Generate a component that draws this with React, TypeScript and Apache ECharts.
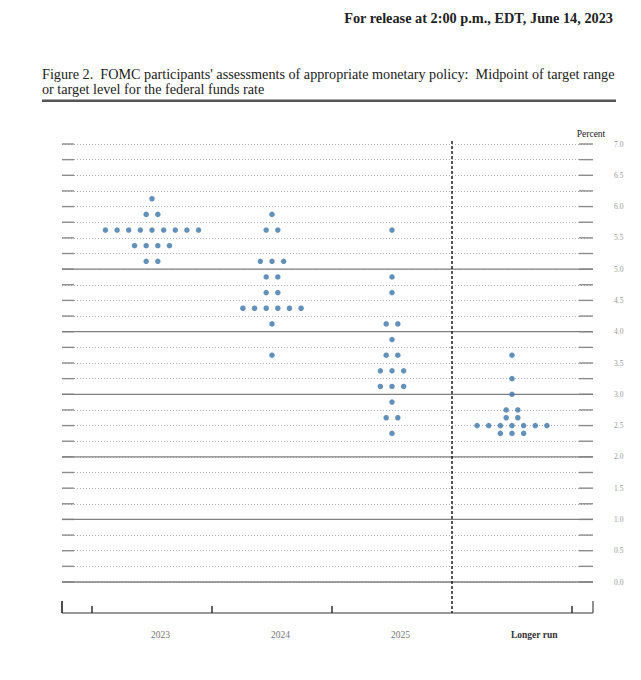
import React, { useEffect, useRef } from "react";
import * as echarts from "echarts";

// ---- Data ----
const categories = ["2023", "2024", "2025", "Longer run"];
// [rate (midpoint), number of participants]
const dots2023 = [[6.125, 1], [5.875, 2], [5.625, 9], [5.375, 4], [5.125, 2]];
const dots2024 = [[5.875, 1], [5.625, 2], [5.125, 3], [4.875, 2], [4.625, 2], [4.375, 6], [4.125, 1], [3.625, 1]];
const dots2025 = [[5.625, 1], [4.875, 1], [4.625, 1], [4.125, 2], [3.875, 1], [3.625, 2], [3.375, 3], [3.125, 3], [2.875, 1], [2.625, 2], [2.375, 1]];
const dotsLongerRun = [[3.625, 1], [3.25, 1], [3.0, 1], [2.75, 2], [2.625, 2], [2.5, 7], [2.375, 3]];
const yTickLabels = ["0.0", "0.5", "1.0", "1.5", "2.0", "2.5", "3.0", "3.5", "4.0", "4.5", "5.0", "5.5", "6.0", "6.5", "7.0"];
const gridLevels = [0, 0.25, 0.5, 0.75, 1, 1.25, 1.5, 1.75, 2, 2.25, 2.5, 2.75, 3, 3.25, 3.5, 3.75, 4, 4.25, 4.5, 4.75, 5, 5.25, 5.5, 5.75, 6, 6.25, 6.5, 6.75, 7];
const solidLevels = [0, 1, 2, 3, 4, 5];
const categoryBoundaries = [-0.5, 0.5, 1.5, 3.5];
const separatorAt = 2.5;
const unitLabel = "Percent";

const X_MIN = -0.75;
const X_MAX = 3.675;
const DOT_STEP = 0.097;
const SERIF = '"Liberation Serif", "DejaVu Serif", serif';

function buildDots() {
  const groups = [dots2023, dots2024, dots2025, dotsLongerRun];
  const pts: number[][] = [];
  groups.forEach((rows, ci) => {
    rows.forEach(([rate, count]) => {
      for (let k = 0; k < count; k++) {
        pts.push([ci + (k - (count - 1) / 2) * DOT_STEP, rate]);
      }
    });
  });
  return pts;
}

export default function App() {
  const ref = useRef<HTMLDivElement>(null);
  useEffect(() => {
    if (!ref.current) return;
    const chart = echarts.init(ref.current, undefined, { renderer: "svg" });
    const frameRender = (params: any, api: any) => {
      const L = api.coord([X_MIN, 0])[0];
      const R = api.coord([X_MAX, 0])[0];
      const y0 = api.coord([0, 0])[1];
      const yTop = api.coord([0, 7])[1];
      const yb = y0 + 31;
      const children: any[] = [];
      const lineStyle = { stroke: "#8c8c8c", lineWidth: 1.4 };
      gridLevels.forEach((v) => {
        const y = api.coord([0, v])[1];
        children.push({ type: "line", shape: { x1: L, y1: y, x2: L + 12, y2: y }, style: lineStyle });
        children.push({ type: "line", shape: { x1: R - 14, y1: y, x2: R, y2: y }, style: lineStyle });
      });
      solidLevels.forEach((v) => {
        const y = api.coord([0, v])[1];
        children.push({ type: "line", shape: { x1: L, y1: y, x2: R, y2: y }, style: { stroke: "#808080", lineWidth: 1.3 } });
      });
      // bottom axis
      children.push({ type: "line", shape: { x1: L, y1: yb, x2: R, y2: yb }, style: { stroke: "#777", lineWidth: 1.5 } });
      children.push({ type: "line", shape: { x1: L, y1: yb - 12, x2: L, y2: yb }, style: { stroke: "#222", lineWidth: 1.6 } });
      children.push({ type: "line", shape: { x1: R, y1: yb - 12, x2: R, y2: yb }, style: { stroke: "#555", lineWidth: 1.3 } });
      categoryBoundaries.forEach((b) => {
        const x = api.coord([b, 0])[0];
        children.push({ type: "line", shape: { x1: x, y1: yb - 7, x2: x, y2: yb }, style: { stroke: "#222", lineWidth: 1.4 } });
      });
      const xs = api.coord([separatorAt, 0])[0];
      children.push({ type: "line", shape: { x1: xs, y1: yTop - 3, x2: xs, y2: yb }, style: { stroke: "#111", lineWidth: 1.4, lineDash: [3, 2] } });
      categories.forEach((c, i) => {
        const x = api.coord([i, 0])[0];
        const last = i === categories.length - 1;
        children.push({
          type: "text",
          x: x - 1,
          y: y0 + 53,
          style: {
            text: c,
            fill: last ? "#333" : "#777",
            font: (last ? "bold " : "") + "9.5px " + SERIF,
            align: "left",
            verticalAlign: "middle",
          },
        });
      });
      children.push({
        type: "text",
        x: R - 2,
        y: yTop - 10,
        style: { text: unitLabel, fill: "#222", font: "9.5px " + SERIF, align: "center", verticalAlign: "middle" },
      });
      return { type: "group", children };
    };

    chart.setOption({
      animation: false,
      backgroundColor: "#fff",
      grid: { left: 62, right: 48, top: 144, bottom: 98 },
      xAxis: { type: "value", min: X_MIN, max: X_MAX, show: false },
      yAxis: {
        type: "value",
        position: "right",
        min: 0,
        max: 7,
        interval: 0.25,
        axisLine: { show: false },
        axisTick: { show: false },
        axisLabel: {
          margin: 21,
          align: "left",
          fontFamily: SERIF,
          fontSize: 7.5,
          color: "#999",
          formatter: (v: number) => {
            const s = v.toFixed(1);
            return Math.abs(v * 2 - Math.round(v * 2)) < 1e-9 && yTickLabels.includes(s) ? s : "";
          },
        },
        splitLine: { show: true, lineStyle: { color: "#b0b0b0", width: 1, type: [1, 2] } },
      },
      graphic: [
        { type: "text", x: 613, y: 18, style: { text: "For release at 2:00 p.m., EDT, June 14, 2023", font: "bold 14.3px " + SERIF, fill: "#222", align: "right", verticalAlign: "middle" } },
        { type: "text", x: 42, y: 74, style: { text: "Figure 2.  FOMC participants' assessments of appropriate monetary policy:  Midpoint of target range", font: "14.2px " + SERIF, fill: "#222", align: "left", verticalAlign: "middle" } },
        { type: "text", x: 42, y: 89, style: { text: "or target level for the federal funds rate", font: "14.2px " + SERIF, fill: "#222", align: "left", verticalAlign: "middle" } },
        { type: "rect", shape: { x: 42, y: 99.5, width: 574, height: 2.5 }, style: { fill: "#555" } },
      ],
      series: [
        { type: "custom", data: [[0, 0]], renderItem: frameRender, silent: true, z: 1, clip: false },
        {
          type: "scatter",
          data: buildDots(),
          symbol: "circle",
          symbolSize: 5.5,
          itemStyle: { color: "#3d76a8" },
          z: 5,
          silent: true,
        },
      ],
    });
    return () => chart.dispose();
  }, []);
  return <div ref={ref} style={{ position: "fixed", left: 0, top: 0, width: 641, height: 680 }} />;
}
